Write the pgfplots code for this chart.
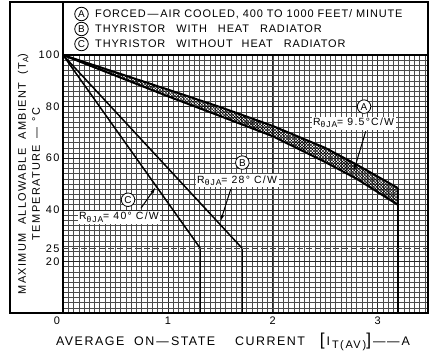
\documentclass[border=0pt]{standalone}
\usepackage{fontspec}
\setmainfont{Liberation Sans}[LetterSpace=12]
\usepackage{pgfplots}
\pgfplotsset{compat=1.18}
\usetikzlibrary{patterns,arrows.meta}
\newcommand{\Rth}{R\raisebox{-0.4ex}{\fontsize{8.5}{9}\selectfont θJA}}
\tikzset{circ/.style={circle, draw, line width=0.8bp, minimum size=13.5bp, inner sep=0pt, fill=white, font=\fontsize{10}{11}\selectfont}}
\begin{document}
\begin{tikzpicture}[x=1bp,y=1bp]
\path (0,0) rectangle (436,-354);
\begin{axis}[
  at={(63bp,-313bp)}, anchor=south west,
  scale only axis, width=365bp, height=258bp,
  xmin=0, xmax=3.48, ymin=0, ymax=100,
  xtick={0,1,2,3}, xticklabels={\llap{0\hspace{3bp}},1,2,3},
  ytick={20,40,60,80,100},
  extra y ticks={25}, extra y tick style={grid=none},
  minor xtick={0.05,0.1,...,3.46},
  minor ytick={2,4,...,98},
  grid=both,
  major grid style={black!85, line width=0.6bp},
  minor grid style={black!70, line width=0.45bp},
  tick style={draw=none},
  axis line style={line width=1.5bp},
  ticklabel style={font=\fontsize{11}{12}\selectfont},
  /pgf/number format/assume math mode=true,
  clip=false,
]
% A band hatch
\addplot[draw=none, pattern=crosshatch, pattern color=black] coordinates {
 (0,100)(0.5,93.3)(1,86.6)(1.5,79.8)(2,72.5)(2.5,64)(2.8,57.5)(3.19,48.5)
 (3.19,42)(2.8,52)(2.5,58.5)(2,68.5)(1.5,76.3)(1,84)(0.5,92)(0,100)} --cycle;
% A upper and lower
\addplot[line width=2bp] coordinates {(0,100)(0.5,93.3)(1,86.6)(1.5,79.8)(2,72.5)(2.5,64)(2.8,57.5)(3.19,48.5)};
\addplot[line width=2bp] coordinates {(0,100)(0.5,92)(1,84)(1.5,76.3)(2,68.5)(2.5,58.5)(2.8,52)(3.19,42)};
\addplot[line width=2bp] coordinates {(3.19,48.5)(3.19,0)};
% B
\addplot[line width=1.5bp] coordinates {(0,100)(1.71,25)};
\addplot[line width=0.9bp] coordinates {(1.71,25)(1.71,0)};
% C
\addplot[line width=1.5bp] coordinates {(0,100)(1.31,25)};
\addplot[line width=0.9bp] coordinates {(1.31,25)(1.31,0)};
% 25 dashed
\addplot[black!75, dash pattern=on 6bp off 3bp, line width=0.8bp] coordinates {(0,25)(3.48,25)};
% annotations A
\node[circ] at (axis cs:2.87,80) {A};
\node[fill=white, inner sep=1.5pt, font=\fontsize{10.5}{12}\selectfont] at (axis cs:2.77,73.6) {\Rth= 9.5°C/W};
\draw[-{Latex[length=7bp,width=3.5bp]}, line width=1bp] (axis cs:2.886,70.4) -- (axis cs:2.77,54.8);
% B
\node[circ] at (axis cs:1.71,58.3) {B};
\node[fill=white, inner sep=1.5pt, font=\fontsize{10.5}{12}\selectfont] at (axis cs:1.66,51.3) {\Rth= 28° C/W};
\draw[-{Latex[length=7bp,width=3.5bp]}, line width=1bp] (axis cs:1.6,48.1) -- (axis cs:1.50,35.3);
% C
\node[circ] at (axis cs:0.62,43.9) {C};
\node[fill=white, inner sep=1.5pt, font=\fontsize{10.5}{12}\selectfont] at (axis cs:0.533,37.1) {\Rth= 40° C/W};
\draw[-{Latex[length=7bp,width=3.5bp]}, line width=1bp] (axis cs:0.743,40.6) -- (axis cs:0.886,48.9);
\end{axis}
% frame
\draw[line width=1.5bp] (10,-2) rectangle (428,-313);
\draw[line width=1.5bp] (63,-2) -- (63,-55);
% legend
\node[circ] at (81.5,-14) {A};
\node[circ] at (81.5,-29) {B};
\node[circ] at (81.5,-44) {C};
\begin{scope}[every node/.style={anchor=west, inner sep=0pt, font=\fontsize{11}{12}\selectfont\addfontfeature{LetterSpace=8}}]
\node at (95,-14) {FORCED\,—\,AIR COOLED, 400 TO 1000 FEET/ MINUTE};
\node at (95,-29) {THYRISTOR\hspace{11bp}WITH\hspace{11bp}HEAT\hspace{11bp}RADIATOR};
\node at (95,-44) {THYRISTOR\hspace{11bp}WITHOUT\hspace{9bp}HEAT\hspace{11bp}RADIATOR};
\end{scope}
% y label
\node[rotate=90, align=center, font=\fontsize{11}{14}\selectfont] at (29,-174)
  {MAXIMUM \ ALLOWABLE \ AMBIENT \ (T\raisebox{-0.4ex}{\fontsize{8}{9}\selectfont A})\\TEMPERATURE \,—\, °C};
% x label
\node[font=\fontsize{12.5}{14}\selectfont] at (233,-342)
  {AVERAGE \ ON\,—\,STATE \ \ \ CURRENT \ \ {\LARGE[}\,I\,\raisebox{-0.5ex}{\fontsize{11}{12}\selectfont T(\,AV\,)}{\LARGE]}\,——\,A};
\end{tikzpicture}
\end{document}
